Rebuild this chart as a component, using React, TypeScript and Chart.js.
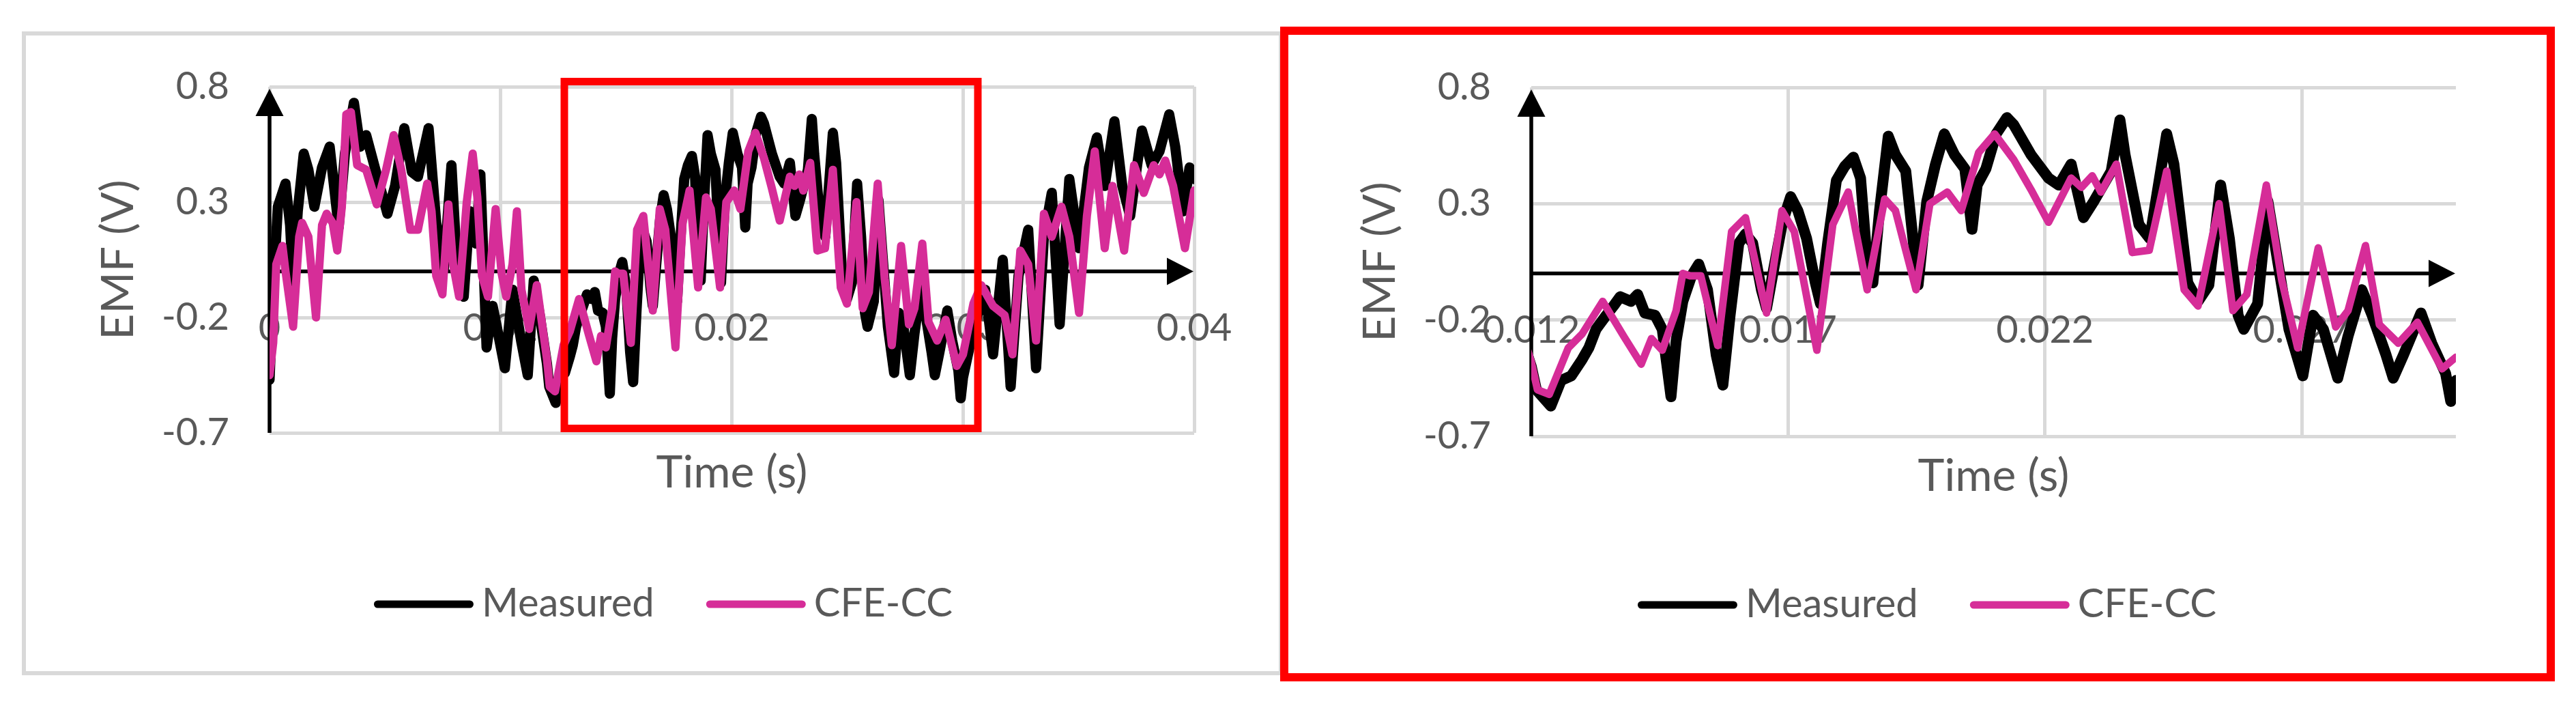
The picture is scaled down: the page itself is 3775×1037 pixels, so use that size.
import React, { useEffect, useRef } from "react";
import { Chart, registerables } from "chart.js";

Chart.register(...registerables);

// ---------- data ----------
const SERIES_NAMES = ["Measured", "CFE-CC"];
const SERIES_COLORS = ["#000000", "#D62D98"];

// Measured EMF (time in ms, value in V)
const MEAS_TIME_MS = [
  0.0, 0.16, 0.36, 0.69, 0.89, 1.02, 1.22, 1.48, 1.68, 1.94,
  2.27, 2.6, 2.99, 3.26, 3.65, 3.92, 4.18, 4.58, 5.1, 5.43,
  5.83, 6.16, 6.42, 6.88, 7.21, 7.54, 7.87, 8.13, 8.4, 8.66,
  8.93, 9.12, 9.39, 9.65, 9.85, 10.18, 10.51, 10.9, 11.17, 11.43,
  11.69, 12.0, 12.1, 12.38, 12.58, 12.78, 12.99, 13.12, 13.26, 13.46,
  13.6, 13.73, 13.94, 14.07, 14.21, 14.41, 14.55, 14.65, 14.72, 14.82,
  14.95, 15.12, 15.26, 15.43, 15.6, 15.73, 15.87, 16.04, 16.17, 16.31,
  16.48, 16.58, 16.72, 16.89, 17.05, 17.19, 17.36, 17.53, 17.63, 17.77,
  17.94, 18.1, 18.27, 18.41, 18.55, 18.65, 18.78, 18.95, 19.09, 19.29,
  19.43, 19.53, 19.7, 19.87, 20.04, 20.24, 20.44, 20.58, 20.68, 20.85,
  21.05, 21.26, 21.39, 21.73, 22.07, 22.27, 22.51, 22.75, 22.95, 23.29,
  23.46, 23.56, 23.83, 24.04, 24.37, 24.51, 24.78, 24.98, 25.19, 25.42,
  25.59, 25.76, 25.87, 26.14, 26.34, 26.54, 26.75, 27.02, 27.22, 27.42,
  27.7, 27.9, 28.17, 28.37, 28.64, 28.78, 28.98, 29.32, 29.53, 29.8,
  29.9, 30.0, 30.45, 30.96, 31.3, 31.72, 32.06, 32.4, 32.82, 33.16,
  33.5, 33.84, 34.18, 34.6, 35.02, 35.45, 35.79, 36.13, 36.55, 36.89,
  37.23, 37.74, 38.16, 38.5, 38.92, 39.18, 39.52, 39.8, 40.0,
];
const MEAS_V = [
  -0.47, -0.08, 0.28, 0.38, 0.2, -0.06, 0.26, 0.51, 0.44, 0.28,
  0.45, 0.54, 0.19, 0.51, 0.73, 0.54, 0.59, 0.44, 0.25, 0.37,
  0.62, 0.43, 0.41, 0.62, 0.21, 0.01, 0.46, -0.02, -0.11, 0.26,
  0.12, 0.42, -0.33, -0.15, -0.25, -0.42, -0.08, -0.31, -0.45, -0.04,
  -0.19, -0.4, -0.5, -0.57, -0.46, -0.44, -0.37, -0.32, -0.24, -0.18,
  -0.14, -0.1, -0.12, -0.09, -0.17, -0.18, -0.24, -0.41, -0.53, -0.29,
  -0.12, -0.01, 0.04, -0.07, -0.35, -0.48, -0.18, 0.13, 0.17, 0.13,
  -0.07, -0.15, 0.02, 0.22, 0.33, 0.27, 0.15, -0.04, -0.13, 0.13,
  0.4, 0.46, 0.5, 0.41, 0.02, -0.04, 0.27, 0.59, 0.51, 0.44,
  0.15, -0.05, 0.31, 0.47, 0.6, 0.51, 0.45, 0.19, 0.38, 0.45,
  0.6, 0.67, 0.64, 0.51, 0.41, 0.38, 0.47, 0.24, 0.31, 0.44,
  0.66, 0.51, 0.21, 0.15, 0.6, 0.47, -0.04, -0.12, -0.05, 0.38,
  0.15, -0.18, -0.24, -0.13, 0.31, 0.04, -0.24, -0.44, -0.18, -0.24,
  -0.45, -0.27, -0.07, -0.18, -0.35, -0.45, -0.35, -0.17, -0.3, -0.43,
  -0.55, -0.46, -0.25, -0.08, -0.36, 0.05, -0.5, -0.02, 0.18, -0.42,
  0.15, 0.34, -0.23, 0.4, 0.1, 0.45, 0.58, 0.37, 0.65, 0.37,
  0.24, 0.61, 0.46, 0.52, 0.68, 0.54, 0.26, 0.45, 0.4,
];

// CFE-CC model EMF (time in ms, value in V)
const CFE_TIME_MS = [
  0.0, 0.16, 0.29, 0.56, 0.69, 1.02, 1.28, 1.41, 1.68, 2.01,
  2.27, 2.47, 2.73, 2.93, 3.13, 3.32, 3.52, 3.79, 4.18, 4.64,
  5.04, 5.37, 5.7, 6.09, 6.42, 6.82, 7.01, 7.21, 7.48, 7.74,
  7.94, 8.2, 8.53, 8.79, 8.99, 9.19, 9.45, 9.78, 10.04, 10.24,
  10.51, 10.7, 10.9, 11.23, 11.56, 11.82, 12.0, 12.12, 12.35, 12.72,
  12.99, 13.39, 13.8, 14.14, 14.34, 14.55, 14.82, 14.95, 15.09, 15.3,
  15.63, 15.9, 16.17, 16.58, 16.88, 17.12, 17.56, 17.87, 18.17, 18.54,
  18.88, 19.09, 19.49, 19.76, 20.1, 20.37, 20.71, 21.02, 21.39, 21.73,
  22.07, 22.51, 22.71, 22.92, 23.09, 23.39, 23.7, 24.03, 24.37, 24.71,
  24.98, 25.39, 25.66, 25.93, 26.31, 26.61, 26.92, 27.32, 27.66, 27.9,
  28.24, 28.51, 28.88, 29.25, 29.73, 30.0, 30.45, 30.79, 31.3, 31.8,
  32.14, 32.48, 32.82, 33.16, 33.5, 33.84, 34.26, 34.6, 35.02, 35.36,
  35.7, 36.13, 36.47, 36.97, 37.4, 37.82, 38.25, 38.5, 38.75, 39.09,
  39.6, 40.0,
];
const CFE_V = [
  -0.45, -0.31, 0.03, 0.11, 0.0, -0.24, 0.15, 0.21, 0.15, -0.2,
  0.2, 0.25, 0.21, 0.09, 0.28, 0.68, 0.69, 0.46, 0.44, 0.29,
  0.44, 0.59, 0.44, 0.18, 0.18, 0.38, 0.26, -0.02, -0.1, 0.29,
  0.03, -0.11, 0.3, 0.51, 0.32, -0.02, -0.11, 0.27, -0.01, -0.11,
  0.03, 0.26, -0.08, -0.25, -0.06, -0.25, -0.38, -0.5, -0.52, -0.32,
  -0.26, -0.12, -0.27, -0.39, -0.28, -0.33, -0.16, 0.0, -0.01, -0.01,
  -0.31, 0.18, 0.24, -0.17, 0.27, 0.18, -0.33, 0.21, 0.35, -0.07,
  0.32, 0.27, -0.07, 0.3, 0.35, 0.27, 0.52, 0.6, 0.49, 0.36,
  0.22, 0.41, 0.37, 0.42, 0.35, 0.47, 0.09, 0.1, 0.44, -0.07,
  -0.14, 0.3, -0.16, -0.09, 0.38, -0.03, -0.32, 0.11, -0.23, -0.16,
  0.12, -0.22, -0.3, -0.21, -0.41, -0.36, -0.14, -0.06, -0.15, -0.19,
  -0.36, 0.09, 0.03, -0.3, 0.25, 0.15, 0.28, 0.15, -0.18, 0.24,
  0.52, 0.1, 0.37, 0.09, 0.46, 0.34, 0.46, 0.42, 0.48, 0.37,
  0.1, 0.35,
];

// axes
const Y_TICKS = [-0.7, -0.2, 0.3, 0.8];
const Y_TICK_LABELS = ["-0.7", "-0.2", "0.3", "0.8"];
const LEFT_X_TICKS = [0, 0.01, 0.02, 0.03, 0.04];
const LEFT_X_TICK_LABELS = ["0", "0.01", "0.02", "0.03", "0.04"];
const RIGHT_X_TICKS = [0.012, 0.017, 0.022, 0.027];
const RIGHT_X_TICK_LABELS = ["0.012", "0.017", "0.022", "0.027"];
const X_TITLE = "Time (s)";
const Y_TITLE = "EMF (V)";
// highlighted zoom window on the full-range chart (s, V)
const ZOOM_WINDOW_S = [0.012753, 0.030642];
const ZOOM_WINDOW_V = [-0.6808, 0.8222];

// ---------- styles ----------
const FONT = "Lato, 'Open Sans', 'Noto Sans', sans-serif";
const TEXT_COLOR = "#595959";
const GRID_COLOR = "#d9d9d9";

const decorPlugin = {
  id: "decor",
  beforeDatasetsDraw(chart: any) {
    const { ctx, chartArea } = chart;
    const { left, right, top, bottom } = chartArea;
    const y0 = chart.scales.y.getPixelForValue(0);
    ctx.save();
    ctx.strokeStyle = "#000";
    ctx.fillStyle = "#000";
    ctx.lineWidth = 5.5;
    ctx.beginPath();
    ctx.moveTo(left, bottom);
    ctx.lineTo(left, top + 40);
    ctx.stroke();
    ctx.beginPath();
    ctx.moveTo(left, top + 3);
    ctx.lineTo(left - 20.5, top + 43);
    ctx.lineTo(left + 20.5, top + 43);
    ctx.closePath();
    ctx.fill();
    ctx.beginPath();
    ctx.moveTo(left, y0);
    ctx.lineTo(right - 36, y0);
    ctx.stroke();
    ctx.beginPath();
    ctx.moveTo(right - 1, y0);
    ctx.lineTo(right - 40, y0 - 20);
    ctx.lineTo(right - 40, y0 + 20);
    ctx.closePath();
    ctx.fill();
    ctx.restore();
  },
  afterDatasetsDraw(chart: any, _a: any, opts: any) {
    if (!opts.zoomBox) return;
    const { ctx } = chart;
    const xs = chart.scales.x;
    const ys = chart.scales.y;
    const x0 = xs.getPixelForValue(ZOOM_WINDOW_S[0]);
    const x1 = xs.getPixelForValue(ZOOM_WINDOW_S[1]);
    const y0 = ys.getPixelForValue(ZOOM_WINDOW_V[1]);
    const y1 = ys.getPixelForValue(ZOOM_WINDOW_V[0]);
    ctx.save();
    ctx.strokeStyle = "#ff0000";
    ctx.lineWidth = 11;
    ctx.strokeRect(x0, y0, x1 - x0, y1 - y0);
    ctx.restore();
  },
  afterDraw(chart: any, _a: any, opts: any) {
    const { ctx, chartArea } = chart;
    const { left, right, top, bottom } = chartArea;
    ctx.save();
    ctx.fillStyle = TEXT_COLOR;
    ctx.font = `66px ${FONT}`;
    ctx.textAlign = "center";
    ctx.textBaseline = "alphabetic";
    ctx.fillText(X_TITLE, (left + right) / 2, bottom + 80);
    ctx.save();
    ctx.translate(left - 200, (top + bottom) / 2);
    ctx.rotate(-Math.PI / 2);
    ctx.font = `66px ${FONT}`;
    ctx.fillText(Y_TITLE, 0, 0);
    ctx.restore();
    ctx.font = `58px ${FONT}`;
    const LINE_LEN = 146;
    const GAP = 12;
    const ITEM_GAP = 76;
    const items = chart.data.datasets.map((d: any) => ({ label: d.label, color: d.borderColor }));
    const widths = items.map((it: any) => LINE_LEN + GAP + ctx.measureText(it.label).width);
    const total = widths.reduce((a: number, b: number) => a + b, 0) + ITEM_GAP * (items.length - 1);
    let x = opts.legendCx - total / 2;
    const ly = opts.legendY;
    items.forEach((it: any, i: number) => {
      ctx.strokeStyle = it.color;
      ctx.lineWidth = 11;
      ctx.lineCap = "round";
      ctx.beginPath();
      ctx.moveTo(x + 5.5, ly);
      ctx.lineTo(x + LINE_LEN - 5.5, ly);
      ctx.stroke();
      ctx.textAlign = "left";
      ctx.fillStyle = TEXT_COLOR;
      ctx.fillText(it.label, x + LINE_LEN + GAP, ly + 18);
      x += widths[i] + ITEM_GAP;
    });
    ctx.restore();
  },
};

function buildConfig(p: any) {
  const base = [
    { t: MEAS_TIME_MS, v: MEAS_V, order: 2 },
    { t: CFE_TIME_MS, v: CFE_V, order: 1 },
  ];
  const datasets = base.map((b, i) => ({
    label: SERIES_NAMES[i],
    data: b.t.map((t, k) => ({ x: t / 1000, y: b.v[k] })),
    borderColor: SERIES_COLORS[i],
    backgroundColor: SERIES_COLORS[i],
    borderWidth: p.lineWidths[i],
    pointRadius: 0,
    tension: 0,
    fill: false,
    order: b.order,
    borderJoinStyle: "round",
    borderCapStyle: "round",
  }));
  const tickFont = { family: FONT, size: 56 };
  return {
    type: "line",
    data: { datasets },
    options: {
      animation: false,
      responsive: false,
      devicePixelRatio: 1,
      events: [],
      layout: { padding: { left: 0, top: p.pad.top, right: p.pad.right, bottom: p.pad.bottom } },
      plugins: {
        legend: { display: false },
        tooltip: { enabled: false },
        decor: { zoomBox: p.zoomBox, legendCx: p.legendCx, legendY: p.legendY },
      },
      scales: {
        x: {
          type: "linear",
          position: { y: -0.2 },
          min: p.xMin,
          max: p.xMax,
          afterBuildTicks: (s: any) => {
            s.ticks = p.xTicks.map((v: number) => ({ value: v }));
          },
          ticks: {
            callback: (_v: any, i: number) => p.xLabels[i],
            font: tickFont,
            color: TEXT_COLOR,
            padding: -18,
            autoSkip: false,
            maxRotation: 0,
          },
          grid: { color: GRID_COLOR, lineWidth: 5, drawTicks: false },
          border: { display: false },
        },
        y: {
          type: "linear",
          min: -0.7,
          max: 0.8,
          afterBuildTicks: (s: any) => {
            s.ticks = Y_TICKS.map((v) => ({ value: v }));
          },
          afterFit: (s: any) => {
            s.width = p.yAxisWidth;
          },
          ticks: {
            callback: (_v: any, i: number) => Y_TICK_LABELS[i],
            font: tickFont,
            color: TEXT_COLOR,
            padding: 59,
          },
          grid: { color: GRID_COLOR, lineWidth: 5, drawTicks: false },
          border: { display: false },
        },
      },
    },
    plugins: [decorPlugin],
  };
}

export default function App() {
  const leftRef = useRef<HTMLCanvasElement>(null);
  const rightRef = useRef<HTMLCanvasElement>(null);

  useEffect(() => {
    const left = new Chart(
      leftRef.current as HTMLCanvasElement,
      buildConfig({
        xMin: 0,
        xMax: 0.04,
        xTicks: LEFT_X_TICKS,
        xLabels: LEFT_X_TICK_LABELS,
        yAxisWidth: 395,
        pad: { top: 127, right: 1870 - 1750, bottom: 1037 - 634 },
        legendCx: 972,
        legendY: 885,
        zoomBox: true,
        lineWidths: [15, 12],
      }) as any
    );
    const right = new Chart(
      rightRef.current as HTMLCanvasElement,
      buildConfig({
        xMin: 0.012,
        xMax: 0.03,
        xTicks: RIGHT_X_TICKS,
        xLabels: RIGHT_X_TICK_LABELS,
        yAxisWidth: 374,
        pad: { top: 128, right: 1905 - 1729, bottom: 1037 - 639 },
        legendCx: 954,
        legendY: 886,
        zoomBox: false,
        lineWidths: [16, 11],
      }) as any
    );
    return () => {
      left.destroy();
      right.destroy();
    };
  }, []);

  return (
    <div
      style={{
        position: "fixed",
        left: 0,
        top: 0,
        width: 3775,
        height: 1037,
        background: "#ffffff",
        overflow: "hidden",
      }}
    >
      <div
        style={{
          position: "absolute",
          left: 32,
          top: 46,
          width: 1880 - 32,
          height: 989 - 46,
          border: "6px solid #d9d9d9",
          boxSizing: "border-box",
        }}
      />
      <canvas
        ref={leftRef}
        width={1870}
        height={1037}
        style={{ position: "absolute", left: 0, top: 0, width: 1870, height: 1037 }}
      />
      <canvas
        ref={rightRef}
        width={1905}
        height={1037}
        style={{ position: "absolute", left: 1870, top: 0, width: 1905, height: 1037 }}
      />
      <div
        style={{
          position: "absolute",
          left: 1876,
          top: 39,
          width: 3744 - 1876,
          height: 998 - 39,
          border: "12px solid #ff0000",
          boxSizing: "border-box",
        }}
      />
    </div>
  );
}
